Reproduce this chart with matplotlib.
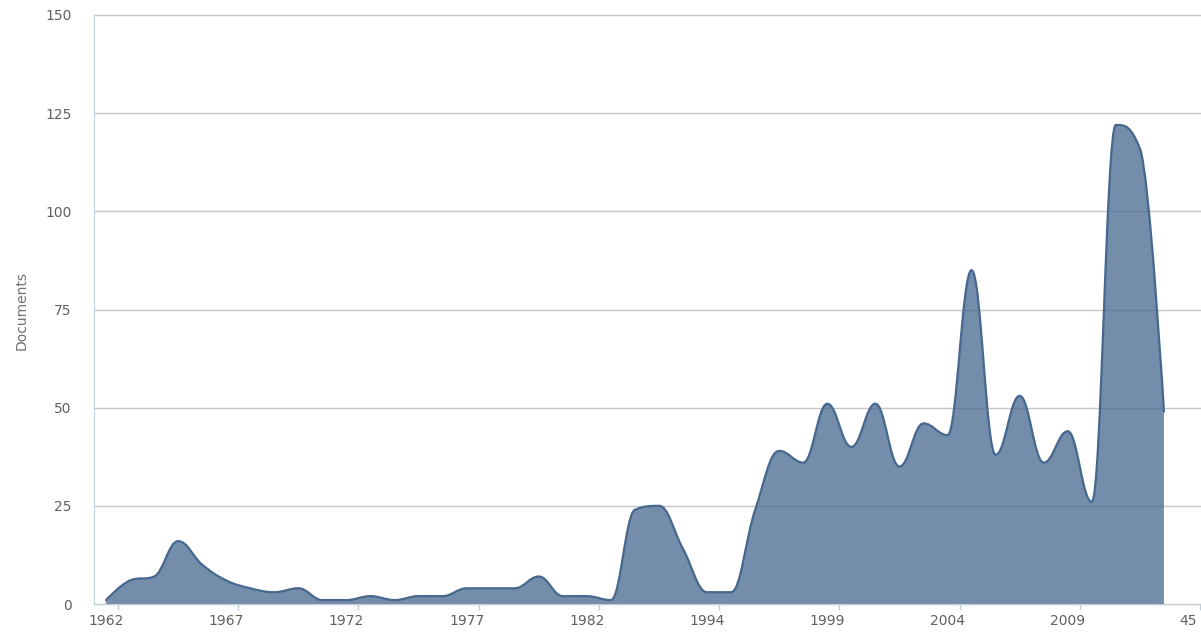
import matplotlib
matplotlib.use('Agg')
import matplotlib.pyplot as plt
from matplotlib.path import Path
from matplotlib.patches import PathPatch
import numpy as np

# categories (index 45 has no name, so the axis shows "45")
years = [str(y) for y in range(1962, 1983)] + ['1984', '1987', '1990', '1992'] + \
        [str(y) for y in range(1994, 2014)]
docs = [1, 6, 7, 16, 10, 6, 4, 3, 4, 1,
        1, 2, 1, 2, 2, 4, 4, 4, 7, 2,
        2, 1, 24, 25, 14, 3, 3, 24, 39, 36,
        51, 40, 51, 35, 46, 43, 85, 38, 53, 36,
        44, 26, 122, 116, 49]
tick_pos = list(range(0, 46, 5))
tick_labels = [years[i] if i < len(years) else str(i) for i in tick_pos]

COLOR = '#46678e'
AXIS_C = '#c0d0e0'
GRID_C = '#c6c6c6'
TEXT_C = '#606060'


def spline_path(xs, ys, smoothing=1.5):
    # highcharts style spline: bezier control points per point
    n = len(xs)
    lc = [(xs[i], ys[i]) for i in range(n)]
    rc = [(xs[i], ys[i]) for i in range(n)]
    denom = smoothing + 1
    for i in range(1, n - 1):
        px, py = xs[i], ys[i]
        lx, ly = xs[i - 1], ys[i - 1]
        nx, ny = xs[i + 1], ys[i + 1]
        lcx = (smoothing * px + lx) / denom
        lcy = (smoothing * py + ly) / denom
        rcx = (smoothing * px + nx) / denom
        rcy = (smoothing * py + ny) / denom
        corr = 0
        if rcx != lcx:
            corr = (rcy - lcy) * (rcx - px) / (rcx - lcx) + py - rcy
        lcy += corr
        rcy += corr
        if lcy > ly and lcy > py:
            lcy = max(ly, py)
            rcy = 2 * py - lcy
        elif lcy < ly and lcy < py:
            lcy = min(ly, py)
            rcy = 2 * py - lcy
        if rcy > ny and rcy > py:
            rcy = max(ny, py)
            lcy = 2 * py - rcy
        elif rcy < ny and rcy < py:
            rcy = min(ny, py)
            lcy = 2 * py - rcy
        lc[i] = (lcx, lcy)
        rc[i] = (rcx, rcy)
    verts = [(xs[0], ys[0])]
    codes = [Path.MOVETO]
    for i in range(1, n):
        verts += [rc[i - 1], lc[i], (xs[i], ys[i])]
        codes += [Path.CURVE4] * 3
    return verts, codes


fig = plt.figure(figsize=(12.01, 6.39), dpi=100)
ax = fig.add_axes([94 / 1201, 35 / 639, 1106 / 1201, 589 / 639])

x = np.arange(len(docs))
verts, codes = spline_path(list(x.astype(float)), [float(v) for v in docs])

# area
fill_verts = verts + [(x[-1], 0), (x[0], 0), verts[0]]
fill_codes = codes + [Path.LINETO, Path.LINETO, Path.CLOSEPOLY]
ax.add_patch(PathPatch(Path(fill_verts, fill_codes), facecolor=COLOR, alpha=0.75,
                       edgecolor='none', zorder=2))
ax.add_patch(PathPatch(Path(verts, codes), facecolor='none', edgecolor=COLOR,
                       lw=1.6, zorder=3, capstyle='round', joinstyle='round'))

ax.set_xlim(-0.5, 45.5)
ax.set_ylim(0, 150)
ax.set_yticks(range(0, 151, 25))
ax.yaxis.grid(True, color=GRID_C, lw=1)
ax.set_axisbelow(True)
for ln in ax.get_ygridlines():
    ln.set_clip_on(False)

ax.set_xticks(tick_pos)
ax.set_xticklabels(tick_labels)
ax.set_xticks([p + 0.5 for p in tick_pos], minor=True)
ax.tick_params(axis='x', which='major', length=0, pad=7, labelsize=10, labelcolor=TEXT_C)
ax.tick_params(axis='x', which='minor', length=4, width=1, color=AXIS_C)
ax.tick_params(axis='y', length=0, pad=16, labelsize=10, labelcolor=TEXT_C)

for s in ['top', 'right']:
    ax.spines[s].set_visible(False)
ax.spines['left'].set_color(AXIS_C)
ax.spines['bottom'].set_color(AXIS_C)
ax.spines['bottom'].set_zorder(4)

fig.text(22 / 1201, 1 - 310 / 639, 'Documents', rotation=90, ha='center', va='center',
         fontsize=10, color='#707070')

plt.savefig('out.png', dpi=100)
